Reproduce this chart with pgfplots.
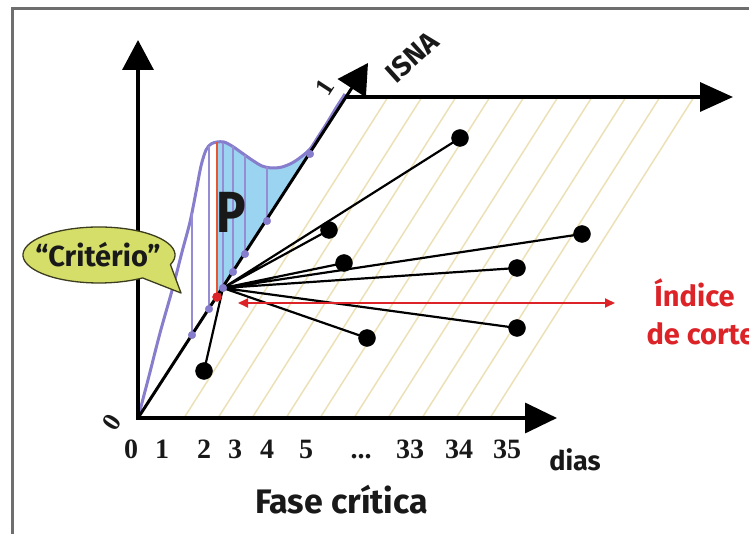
\documentclass[border=0pt]{standalone}
\usepackage{pgfplots}
\pgfplotsset{compat=1.18}
\usepgfplotslibrary{fillbetween}
\usetikzlibrary{arrows.meta}
\usepackage{fontspec}
\setmainfont{Fira Sans}
\newfontfamily\numfont{Liberation Serif}

\definecolor{framec}{RGB}{110,110,110}
\definecolor{hatchc}{RGB}{236,224,182}
\definecolor{crit}{RGB}{135,125,205}
\definecolor{critlt}{RGB}{150,140,212}
\definecolor{pfill}{RGB}{155,212,240}
\definecolor{cut}{RGB}{220,35,40}
\definecolor{cutline}{RGB}{232,85,50}
\definecolor{bubble}{RGB}{212,222,105}
\definecolor{bubbleedge}{RGB}{60,60,30}
\definecolor{ink}{RGB}{25,25,25}

\newcommand\fs[1]{\fontsize{#1}{#1}\selectfont}

\begin{document}
\begin{tikzpicture}
\begin{axis}[
    x=1pt, y=1pt,
    xmin=0, xmax=749, ymin=0, ymax=533,
    y dir=reverse,
    enlargelimits=false,
    hide axis, clip=false,
]
\coordinate (BL) at (axis cs:0,533);
\coordinate (TR) at (axis cs:749,0);

% frame (only left and top edges are visible)
\addplot[framec, line width=3pt] coordinates {(12,545) (12,9) (760,9)};

% hatching of the plane, parallel to the ISNA axis
\addplot[hatchc, line width=1.5pt, unbounded coords=jump] coordinates {
    (184,418) (388,97) (nan,nan)
    (218,418) (422,97) (nan,nan)
    (252,418) (456,97) (nan,nan)
    (286,418) (490,97) (nan,nan)
    (320,418) (524,97) (nan,nan)
    (354,418) (558,97) (nan,nan)
    (388,418) (592,97) (nan,nan)
    (422,418) (626,97) (nan,nan)
    (456,418) (660,97) (nan,nan)
    (490,418) (694,97)
};

% criterion curve and area P
\addplot[draw=none, name path=diag] coordinates {(138,418) (345,100.3)};
\addplot[crit, line width=3pt, smooth, name path=curve] coordinates {
    (138,418) (149,376) (160,333) (173,287) (182,252) (190,222)
    (196,192) (201,166) (206,150) (211,144) (217,142) (224,142)
    (232,146) (242,153) (252,160) (262,166) (272,168) (282,167)
    (292,163) (301,157) (310,149) (318,137) (327,123) (336,108) (345,94)
};
\addplot[pfill] fill between[of=curve and diag, soft clip={domain=217:322}];

% vertical drop lines from the curve to the ISNA axis
\addplot[critlt, line width=2pt, unbounded coords=jump] coordinates {
    (192,213) (192,335) (nan,nan)
    (209,146) (209,309) (nan,nan)
    (223,143) (223,288) (nan,nan)
    (233,146) (233,272) (nan,nan)
    (245,155) (245,254) (nan,nan)
    (267,167) (267,221)
};
\addplot[cutline, line width=2.2pt] coordinates {(217,142) (217,297)};

% spokes to the observations
\addplot[black, line width=2.2pt, unbounded coords=jump] coordinates {
    (223,288) (460,138) (nan,nan)
    (223,288) (329,230) (nan,nan)
    (223,288) (344,263) (nan,nan)
    (223,288) (582,234) (nan,nan)
    (223,288) (517,268) (nan,nan)
    (223,288) (517,328) (nan,nan)
    (223,288) (367,338) (nan,nan)
    (223,288) (204,371)
};

% axes
\addplot[black, line width=3.5pt, line join=miter,
    {Triangle[length=30pt,width=31pt]}-{Triangle[length=32pt,width=30pt]}]
    coordinates {(138,40) (138,418) (557,418)};
\addplot[black, line width=3pt, -{Triangle[length=30pt,width=33pt]}]
    coordinates {(138,418) (368,63)};
\addplot[black, line width=3.5pt, -{Triangle[length=33pt,width=29pt]}]
    coordinates {(345,97) (733,97)};

% cut-off index
\addplot[cut, line width=1.8pt,
    {Triangle[length=10pt,width=9pt]}-{Triangle[length=10pt,width=9pt]}]
    coordinates {(238,303) (615,303)};

% markers
\addplot[only marks, mark=*, mark size=3.8pt, crit] coordinates {
    (192,335) (209,309) (223,288) (233,272) (245,254) (267,221) (310,154)};
\addplot[only marks, mark=*, mark size=4.5pt, cut] coordinates {(217,297)};
\addplot[only marks, mark=*, mark size=8.5pt, black] coordinates {
    (460,138) (329,230) (344,263) (582,234) (517,268) (517,328) (367,338) (204,371)};

% speech bubble
\draw[fill=bubble, draw=bubbleedge, line width=1.3pt, line join=round]
    (axis cs:99,255) ++(-20:76pt and 28pt)
    arc[start angle=-20, end angle=305, x radius=76pt, y radius=28pt]
    -- (axis cs:181,293) -- cycle;
\node[font=\fs{29}\bfseries, text=ink, anchor=base] at (axis cs:98,267) {“Critério”};

% texts
\node[font=\fs{58}\bfseries, text=ink, xscale=0.85] at (axis cs:231.5,212.5) {P};
\node[font=\fs{28}\bfseries, text=ink, rotate=42, inner sep=0pt] at (axis cs:412,57) {ISNA};
\node[font=\numfont\fs{26}\bfseries, text=ink, rotate=57, inner sep=0pt] at (axis cs:325,87) {1};
\node[font=\numfont\fs{26}\bfseries, text=ink, rotate=57, inner sep=0pt] at (axis cs:112,422) {0};

\foreach \xx/\lab in {131/0, 162/1, 204/2, 235/3, 267/4, 306/5, 410/33, 459/34, 507/35}{
    \edef\temp{\noexpand\node[font=\noexpand\numfont\noexpand\fs{28}\noexpand\bfseries, text=ink, anchor=base] at (axis cs:\xx,458) {\lab};}
    \temp
}
\node[font=\numfont\fs{28}\bfseries, text=ink, anchor=base] at (axis cs:361,458) {...};

\node[font=\fs{27}\bfseries, text=ink, anchor=base] at (axis cs:575,470) {dias};
\node[font=\fs{34}\bfseries, text=ink, anchor=base] at (axis cs:341.5,513) {Fase crítica};
\node[font=\fs{29}\bfseries, text=cut, anchor=base] at (axis cs:694.5,307) {Índice};
\node[font=\fs{29}\bfseries, text=cut, anchor=base west] at (axis cs:643,345) {de corte};
\end{axis}
\pgfresetboundingbox
\useasboundingbox (BL) rectangle (TR);
\end{tikzpicture}
\end{document}
